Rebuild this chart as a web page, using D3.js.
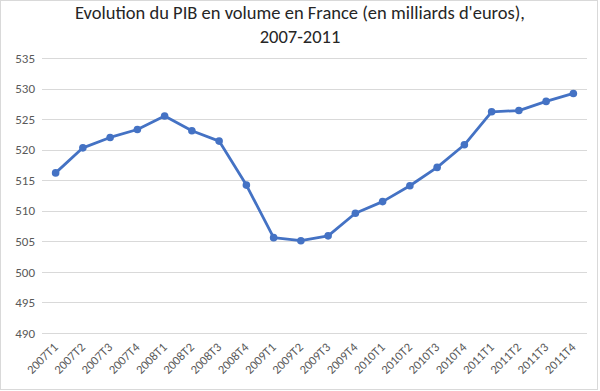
<!DOCTYPE html>
<html><head><meta charset="utf-8">
<script src="https://cdn.jsdelivr.net/npm/d3@7"></script>
<style>body{margin:0;background:#fff}svg{display:block}</style>
</head><body>
<svg id="c" width="600" height="391"></svg>
<script>
const categories = ["2007T1","2007T2","2007T3","2007T4","2008T1","2008T2","2008T3","2008T4","2009T1","2009T2","2009T3","2009T4","2010T1","2010T2","2010T3","2010T4","2011T1","2011T2","2011T3","2011T4"];
const values = [516.2,520.3,522.0,523.3,525.5,523.1,521.4,514.2,505.6,505.1,505.9,509.6,511.5,514.1,517.1,520.8,526.2,526.4,527.9,529.2];
const yTicks = [490,495,500,505,510,515,520,525,530,535];
const titleLines = ["Evolution du PIB en volume en France (en milliards d'euros),","2007-2011"];

(function(){
const svg = d3.select("#c");
const font = "Calibri, Carlito, Lato, 'Open Sans', sans-serif";
svg.append("rect").attr("x",0.5).attr("y",0.5).attr("width",597).attr("height",389)
  .attr("fill","#fff").attr("stroke","#d9d9d9");

const mLeft = 42, mRight = 587, mTop = 58, mBottom = 333;
const x = d3.scaleBand().domain(categories).range([mLeft, mRight]);
const y = d3.scaleLinear().domain([490,535]).range([mBottom, mTop]);

svg.append("g").selectAll("line").data(yTicks).join("line")
  .attr("x1",mLeft).attr("x2",mRight)
  .attr("y1",d=>Math.round(y(d))+0.5).attr("y2",d=>Math.round(y(d))+0.5)
  .attr("stroke","#d9d9d9").attr("stroke-width",1);

const yAxis = d3.axisLeft(y).tickValues(yTicks).tickSize(0).tickPadding(7);
const ga = svg.append("g").attr("transform",`translate(${mLeft},0)`).call(yAxis);
ga.select(".domain").remove();
ga.selectAll("text").attr("fill","#595959").style("font-family",font).style("font-size","13px");

const xAxis = d3.axisBottom(x).tickSize(0).tickPadding(0);
const gx = svg.append("g").attr("transform",`translate(0,${mBottom})`).call(xAxis);
gx.select(".domain").remove();
gx.selectAll("text").attr("fill","#595959").style("font-family",font).style("font-size","12.5px")
  .attr("text-anchor","end").attr("dy",0).attr("y",0)
  .attr("transform","translate(3,15) rotate(-45)");

const line = d3.line().x((d,i)=>x(categories[i])+x.bandwidth()/2).y(d=>y(d));
svg.append("path").datum(values).attr("d",line).attr("fill","none")
  .attr("stroke","#4472C4").attr("stroke-width",2.8).attr("stroke-linejoin","round");
svg.append("g").selectAll("circle").data(values).join("circle")
  .attr("cx",(d,i)=>x(categories[i])+x.bandwidth()/2).attr("cy",d=>y(d)).attr("r",3.8)
  .attr("fill","#4472C4");

svg.append("g").selectAll("text").data(titleLines).join("text")
  .attr("x",300).attr("y",(d,i)=>19+i*24).attr("text-anchor","middle")
  .attr("fill","#262626").style("font-family",font).style("font-size","18.5px").text(d=>d);
})();
</script>
</body></html>
